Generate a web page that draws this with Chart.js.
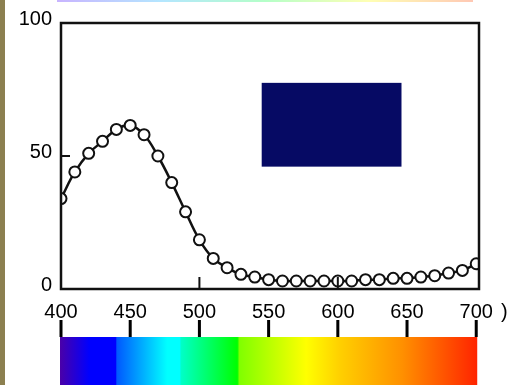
<!DOCTYPE html>
<html lang="en">
<head>
  <meta charset="UTF-8">
  <title>Absorption spectrum</title>
  <script src="https://cdn.jsdelivr.net/npm/chart.js"></script>
  <style>
    body { margin: 0; background: #fff; }
    #wrap { width: 508px; height: 385px; }
  </style>
</head>
<body>
  <div id="wrap"><canvas id="spectrum" width="508" height="385"></canvas></div>

  <script>
    // wavelength (nm) and relative absorption
    const wavelengths = [400, 410, 420, 430, 440, 450, 460, 470, 480, 490, 500,
                         510, 520, 530, 540, 550, 560, 570, 580, 590, 600,
                         610, 620, 630, 640, 650, 660, 670, 680, 690, 700];
    const absorption = [34, 44, 51, 55.5, 60, 61.5, 58, 50, 40, 29, 18.5,
                        11.5, 8, 5.5, 4.5, 3.5, 3, 3, 3, 3, 3,
                        3, 3.5, 3.5, 4, 4, 4.5, 5, 6, 7, 9.5];
    const xTicks = [400, 450, 500, 550, 600, 650, 700];
    const yTicks = [0, 50, 100];

    const points = wavelengths.map((w, i) => ({ x: w, y: absorption[i] }));

    // spectrum strip colours, position along 400..700
    const stripStops = [
      [0.00, '#4a00a8'], [0.07, '#0000ff'], [0.134, '#0000ff'], [0.136, '#0058ff'],
      [0.257, '#00ffff'], [0.287, '#00ffff'], [0.29, '#00ffc8'], [0.425, '#00ff00'],
      [0.43, '#80ff00'], [0.59, '#ffff00'], [0.67, '#ffd000'], [0.82, '#ff9000'],
      [1.00, '#ff2400']
    ];
    const topStops = [
      [0, '#c8b4ff'], [0.25, '#b4e6ff'], [0.5, '#b4ffc8'], [0.75, '#ffffb4'], [1, '#ffc8b4']
    ];

    const decor = {
      id: 'decor',
      beforeDraw(chart) {
        const ctx = chart.ctx;
        const x = chart.scales.x;
        ctx.save();
        // olive left edge of the slide
        ctx.fillStyle = '#8c8050';
        ctx.fillRect(0, 0, 5, chart.height);
        // faint rainbow line at the very top
        let g = ctx.createLinearGradient(57, 0, 473, 0);
        topStops.forEach(s => g.addColorStop(s[0], s[1]));
        ctx.fillStyle = g;
        ctx.fillRect(57, 0, 416, 2);
        // colour bar under the axis
        const x0 = x.getPixelForValue(400) - 1, x1 = x.getPixelForValue(700) + 1;
        g = ctx.createLinearGradient(x0, 0, x1, 0);
        stripStops.forEach(s => g.addColorStop(s[0], s[1]));
        ctx.fillStyle = g;
        ctx.fillRect(x0, 337, x1 - x0, chart.height - 337);
        // black tick marks above the colour bar
        ctx.fillStyle = '#000';
        xTicks.forEach(v => {
          const px = x.getPixelForValue(v);
          ctx.fillRect(px - 1.5, 320, 3, 17);
        });
        ctx.restore();
      },
      afterDatasetsDraw(chart) {
        const ctx = chart.ctx;
        const a = chart.chartArea;
        const x = chart.scales.x, y = chart.scales.y;
        ctx.save();
        ctx.strokeStyle = '#111';
        ctx.lineWidth = 2.5;
        ctx.strokeRect(a.left, a.top, a.right - a.left, a.bottom - a.top);
        // short inner ticks
        ctx.lineWidth = 2;
        ctx.beginPath();
        ctx.moveTo(a.left, y.getPixelForValue(50));
        ctx.lineTo(a.left + 9, y.getPixelForValue(50));
        [500, 600].forEach(v => {
          ctx.moveTo(x.getPixelForValue(v), a.bottom);
          ctx.lineTo(x.getPixelForValue(v), a.bottom - 12);
        });
        ctx.stroke();
        // navy box covering the original label
        const bx = x.getPixelForValue(545), by = y.getPixelForValue(77.5);
        ctx.fillStyle = '#060a64';
        ctx.fillRect(bx, by, x.getPixelForValue(646) - bx, y.getPixelForValue(46) - by);
        // cut-off unit bracket at the right
        ctx.fillStyle = '#000';
        ctx.font = '20px "Liberation Sans", Arial, sans-serif';
        ctx.textBaseline = 'middle';
        ctx.fillText(')', 501, 312);
        ctx.restore();
      }
    };

    new Chart(document.getElementById('spectrum'), {
      type: 'line',
      data: {
        datasets: [{
          data: points,
          borderColor: '#111',
          borderWidth: 2.5,
          tension: 0.4,
          pointRadius: 5.5,
          pointBorderWidth: 2,
          pointBackgroundColor: '#fff',
          pointBorderColor: '#111'
        }]
      },
      options: {
        responsive: false,
        devicePixelRatio: 1,
        animation: false,
        layout: { padding: { top: 23, right: 29, left: 0, bottom: 0 } },
        plugins: { legend: { display: false }, tooltip: { enabled: false } },
        scales: {
          x: {
            type: 'linear',
            min: 400,
            max: 702,
            grid: { display: false, drawTicks: false },
            border: { display: false },
            afterBuildTicks: s => { s.ticks = xTicks.map(v => ({ value: v })); },
            afterFit: s => { s.height = 96; },
            ticks: {
              padding: 11,
              color: '#000',
              font: { family: '"Liberation Sans", Arial, sans-serif', size: 20 }
            }
          },
          y: {
            min: 0,
            max: 100,
            grid: { display: false, drawTicks: false },
            border: { display: false },
            afterBuildTicks: s => { s.ticks = yTicks.map(v => ({ value: v })); },
            afterFit: s => { s.width = 61; },
            ticks: {
              padding: 9,
              labelOffset: -4,
              color: '#000',
              font: { family: '"Liberation Sans", Arial, sans-serif', size: 20 }
            }
          }
        }
      },
      plugins: [decor]
    });
  </script>
</body>
</html>
